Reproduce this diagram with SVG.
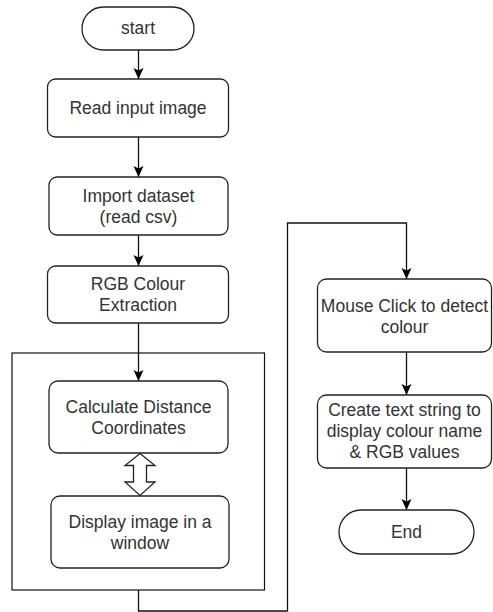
<svg xmlns="http://www.w3.org/2000/svg" width="493" height="612" viewBox="0 0 493 612">
<defs>
<marker id="arr" markerUnits="userSpaceOnUse" markerWidth="12" markerHeight="12" refX="11" refY="5" orient="auto">
<path d="M0,0 L11,5 L0,10 L2.5,5 z" fill="#000"/>
</marker>
<style>
.box{fill:#fff;stroke:#222;stroke-width:1.3}
.line{fill:none;stroke:#111;stroke-width:1.3}
.txt{font-family:"Liberation Sans",Arial,sans-serif;font-size:17.5px;fill:#333;text-anchor:middle}
</style>
</defs>
<rect width="493" height="612" fill="#fff"/>
<g id="container">
<rect x="12" y="353" width="252.5" height="237" fill="none" stroke="#111" stroke-width="1.2"/>
</g>
<g id="connectors">
<line class="line" x1="138.5" y1="50" x2="138.5" y2="79" marker-end="url(#arr)"/>
<line class="line" x1="138.5" y1="137" x2="138.5" y2="177" marker-end="url(#arr)"/>
<line class="line" x1="138.5" y1="235" x2="138.5" y2="266" marker-end="url(#arr)"/>
<line class="line" x1="138.5" y1="323" x2="138.5" y2="381" marker-end="url(#arr)"/>
<polyline class="line" points="138.5,590 138.5,611 287.5,611 287.5,223 406.5,223 406.5,279" marker-end="url(#arr)"/>
<line class="line" x1="406.5" y1="352" x2="406.5" y2="395" marker-end="url(#arr)"/>
<line class="line" x1="406.5" y1="468" x2="406.5" y2="510" marker-end="url(#arr)"/>
<polygon points="140,453.5 155,465.5 146.5,465.5 146.5,482 155,482 140,495.5 125,482 133.5,482 133.5,465.5 125,465.5" fill="#fff" stroke="#222" stroke-width="1.3"/>
</g>
<g id="start">
<rect class="box" x="82" y="7" width="112" height="43" rx="21.5"/>
<text class="txt" x="138" y="34">start</text>
</g>
<g id="read">
<rect class="box" x="47.5" y="79" width="181" height="58" rx="8"/>
<text class="txt" x="138" y="114">Read input image</text>
</g>
<g id="import">
<rect class="box" x="49" y="177" width="179" height="58" rx="8"/>
<text class="txt" x="138.5" y="202">Import dataset</text>
<text class="txt" x="138.5" y="223">(read csv)</text>
</g>
<g id="rgb">
<rect class="box" x="47.5" y="266" width="181" height="57" rx="8"/>
<text class="txt" x="138" y="290">RGB Colour</text>
<text class="txt" x="138" y="311">Extraction</text>
</g>
<g id="calc">
<rect class="box" x="49" y="381" width="179" height="72" rx="9"/>
<text class="txt" x="138.5" y="413">Calculate Distance</text>
<text class="txt" x="138.5" y="434">Coordinates</text>
</g>
<g id="display">
<rect class="box" x="51" y="496" width="178" height="72" rx="9"/>
<text class="txt" x="140" y="528">Display image in a</text>
<text class="txt" x="140" y="549">window</text>
</g>
<g id="mouse">
<rect class="box" x="317.5" y="279" width="174" height="73" rx="9"/>
<text class="txt" x="404.5" y="311.5">Mouse Click to detect</text>
<text class="txt" x="404.5" y="332.5">colour</text>
</g>
<g id="create">
<rect class="box" x="317.5" y="395" width="174" height="73" rx="9"/>
<text class="txt" x="404.5" y="416">Create text string to</text>
<text class="txt" x="404.5" y="437">display colour name</text>
<text class="txt" x="404.5" y="458">&amp; RGB values</text>
</g>
<g id="end">
<rect class="box" x="339" y="510" width="135" height="44" rx="22"/>
<text class="txt" x="406.5" y="538">End</text>
</g>
</svg>
